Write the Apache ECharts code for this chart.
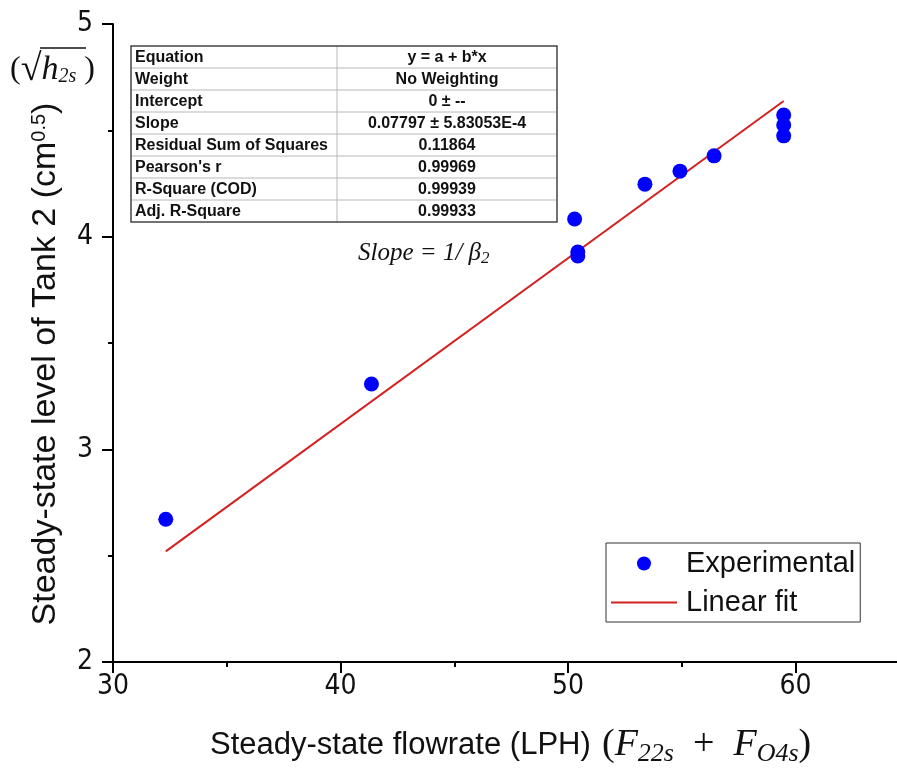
<!DOCTYPE html>
<html>
<head>
<meta charset="utf-8">
<script src="https://cdn.jsdelivr.net/npm/echarts@6/dist/echarts.min.js"></script>
<style>
html,body{margin:0;padding:0;background:#fff;}
#chart{width:897px;height:769px;}
</style>
</head>
<body>
<div id="chart"></div>
<script>
// ---- data ----
const flowX  = [32.32, 41.36, 50.29, 50.43, 50.43, 53.38, 54.92, 56.42, 59.48, 59.48, 59.48];
const levelY = [2.671, 3.307, 4.083, 3.928, 3.909, 4.247, 4.308, 4.380, 4.572, 4.525, 4.474];
const fitX = [32.32, 59.48];
const fitY = [2.52, 4.638];
const seriesNames = ['Experimental', 'Linear fit'];
const xMajorTicks = [30, 40, 50, 60];
const xMinorTicks = [35, 45, 55];
const yTicks = [2, 3, 4, 5];
const tableLabels = ['Equation', 'Weight', 'Intercept', 'Slope', 'Residual Sum of Squares', "Pearson's r", 'R-Square (COD)', 'Adj. R-Square'];
const tableValues = ['y = a + b*x', 'No Weighting', '0 ± --', '0.07797 ± 5.83053E-4', '0.11864', '0.99969', '0.99939', '0.99933'];
const xTitle = 'Steady-state flowrate (LPH)';
const yTitle = 'Steady-state level of Tank 2 (cm';
const ySup = '0.5';
const slopeText = 'Slope = 1/ β';
const slopeSub = '2';

// ---- build ----
const chart = echarts.init(document.getElementById('chart'), null, {renderer: 'canvas'});
const SANS = '"Liberation Sans", Arial, sans-serif';
const NARROW = '"Liberation Sans Narrow", "Arial Narrow", "DejaVu Sans Condensed", sans-serif';
const SERIF = '"Liberation Serif", "Times New Roman", serif';
const X_MIN = 30, X_MAX = 64.46;

const scatterData = flowX.map((x, i) => [x, levelY[i]]);
const fitData = fitX.map((x, i) => [x, fitY[i]]);

// table graphic
const tLeft = 131, tTop = 46, tW = 426, tRow = 22, tCol = 206;
const tableEls = [];
tableEls.push({type: 'rect', shape: {x: tLeft, y: tTop, width: tW, height: tRow * tableLabels.length}, style: {fill: '#fff', stroke: 'none'}});
for (let i = 1; i < tableLabels.length; i++) {
  tableEls.push({type: 'line', shape: {x1: tLeft, y1: tTop + i * tRow, x2: tLeft + tW, y2: tTop + i * tRow}, style: {stroke: '#b8b8b8', lineWidth: 1}});
}
tableEls.push({type: 'line', shape: {x1: tLeft + tCol, y1: tTop, x2: tLeft + tCol, y2: tTop + tRow * tableLabels.length}, style: {stroke: '#b8b8b8', lineWidth: 1}});
tableEls.push({type: 'rect', shape: {x: tLeft, y: tTop, width: tW, height: tRow * tableLabels.length}, style: {fill: 'none', stroke: '#444', lineWidth: 1.5}});
tableLabels.forEach((t, i) => {
  tableEls.push({type: 'text', x: tLeft + 4, y: tTop + i * tRow + tRow / 2 + 1,
    style: {text: t, font: 'bold 16px ' + SANS, fill: '#111', align: 'left', verticalAlign: 'middle'}});
  tableEls.push({type: 'text', x: tLeft + tCol + (tW - tCol) / 2, y: tTop + i * tRow + tRow / 2 + 1,
    style: {text: tableValues[i], font: 'bold 16px ' + SANS, fill: '#111', align: 'center', verticalAlign: 'middle'}});
});

const option = {
  animation: false,
  backgroundColor: '#fff',
  grid: {left: 113, top: 24, bottom: 107, right: 0, containLabel: false},
  xAxis: [{
    type: 'value', min: X_MIN, max: X_MAX, position: 'bottom',
    axisLine: {show: true, onZero: false, lineStyle: {color: '#000', width: 2}},
    axisTick: {show: true, length: 11, customValues: xMajorTicks, lineStyle: {color: '#000', width: 2}},
    splitLine: {show: false},
    axisLabel: {margin: 11, fontSize: 28, fontFamily: NARROW, color: '#111', customValues: xMajorTicks}
  }, {
    type: 'value', min: X_MIN, max: X_MAX, position: 'bottom',
    axisLine: {show: false, onZero: false},
    axisTick: {show: true, length: 5, customValues: xMinorTicks, lineStyle: {color: '#000', width: 2}},
    splitLine: {show: false},
    axisLabel: {show: false}
  }],
  yAxis: {
    type: 'value', min: 2, max: 5, interval: 1,
    axisLine: {show: true, onZero: false, lineStyle: {color: '#000', width: 2}},
    axisTick: {show: true, length: 11, lineStyle: {color: '#000', width: 2}},
    minorTick: {show: true, splitNumber: 2, length: 5, lineStyle: {color: '#000', width: 2}},
    splitLine: {show: false},
    axisLabel: {margin: 20, fontSize: 28, fontFamily: NARROW, color: '#111',
      formatter: v => (yTicks.indexOf(v) >= 0 ? String(v) : '')}
  },
  legend: {
    show: true, orient: 'vertical', left: 606, top: 543,
    data: [
      {name: seriesNames[0], icon: 'circle'},
      {name: seriesNames[1], icon: 'path://M0,0 L0,0 M0,6 L66,6 L66,8 L0,8 Z M66,14 L66,14'}
    ],
    selectedMode: false,
    itemWidth: 66, itemHeight: 14, itemGap: 10,
    padding: [6, 5, 5, 5],
    backgroundColor: '#fff', borderColor: '#333', borderWidth: 1,
    textStyle: {fontSize: 29, fontFamily: SANS, color: '#111', padding: [0, 0, 0, 4]}
  },
  series: [
    {name: seriesNames[0], type: 'scatter', data: scatterData, symbol: 'circle', symbolSize: 15,
      itemStyle: {color: '#0000ff', opacity: 1}, z: 4},
    {name: seriesNames[1], type: 'line', data: fitData, showSymbol: false, symbol: 'none',
      lineStyle: {color: '#d42020', width: 2}, itemStyle: {color: '#d42020'}, z: 3}
  ],
  graphic: [
    {type: 'group', z: 10, children: tableEls},
    // slope annotation
    {type: 'text', x: 358, y: 253, z: 10, style: {text: '{m|' + slopeText + '}{s|' + slopeSub + '}',
      align: 'left', verticalAlign: 'middle',
      rich: {m: {font: 'italic 25px ' + SERIF, fill: '#111'}, s: {font: 'italic 17px ' + SERIF, fill: '#111', padding: [12, 0, 0, 0]}}}},
    // y title
    {type: 'text', x: 46, y: 364, rotation: Math.PI / 2, z: 10,
      style: {text: '{m|' + yTitle + '}{s|' + ySup + '}{m|)}', align: 'center', verticalAlign: 'middle',
        rich: {m: {font: '34px ' + SANS, fill: '#111'}, s: {font: '20px ' + SANS, fill: '#111', padding: [0, 0, 14, 0]}}}},
    // x title
    {type: 'text', x: 210, y: 745, z: 10,
      style: {text: xTitle, font: '31px ' + SANS, fill: '#111', align: 'left', verticalAlign: 'middle'}},
    {type: 'text', x: 602, y: 745, z: 10,
      style: {text: '{p|(}{f|F}{s|22s}{p|  +  }{f|F}{s|O4s}{p|)}', align: 'left', verticalAlign: 'middle',
        rich: {p: {font: '38px ' + SERIF, fill: '#111'}, f: {font: 'italic 38px ' + SERIF, fill: '#111'},
          s: {font: 'italic 26px ' + SERIF, fill: '#111', padding: [18, 0, 0, 0]}}}},
    // sqrt(h2s) label
    {type: 'text', x: 10, y: 70, z: 10,
      style: {text: '{p|(}{r|√}{h|h}{s|2s}{p| )}', align: 'left', verticalAlign: 'middle',
        rich: {p: {font: '32px ' + SERIF, fill: '#111'}, r: {font: '38px ' + SERIF, fill: '#111'},
          h: {font: 'italic 34px ' + SERIF, fill: '#111'}, s: {font: 'italic 20px ' + SERIF, fill: '#111', padding: [14, 0, 0, 0]}}}},
    {type: 'line', z: 10, shape: {x1: 40, y1: 48, x2: 86, y2: 48}, style: {stroke: '#111', lineWidth: 1.5}}
  ]
};
chart.setOption(option);
</script>
</body>
</html>
